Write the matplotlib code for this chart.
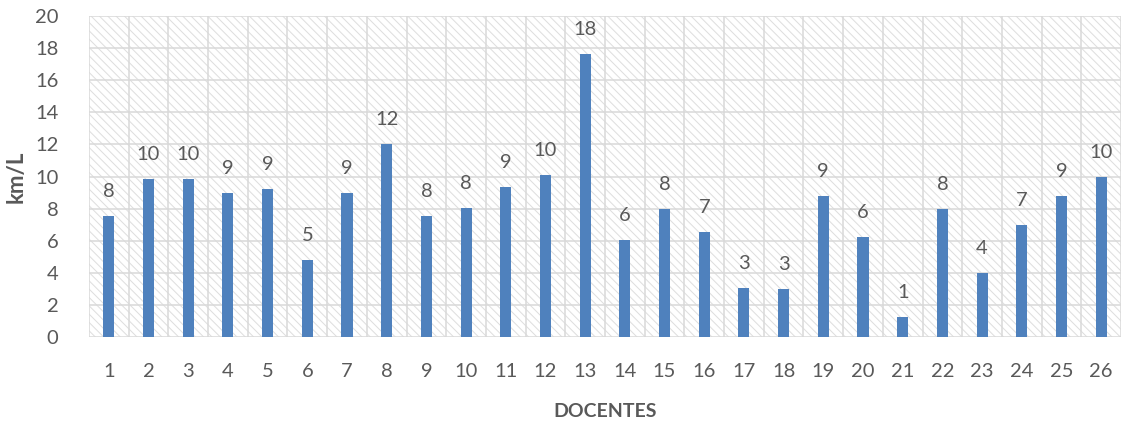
import matplotlib
matplotlib.use("Agg")
import matplotlib.pyplot as plt
from matplotlib.patches import Rectangle
import numpy as np

docentes = [str(i) for i in range(1, 27)]
km_por_litro = [7.55, 9.85, 9.85, 9.0, 9.2, 4.8, 9.0, 12.0, 7.55, 8.05,
                9.35, 10.1, 17.65, 6.05, 8.0, 6.55, 3.05, 3.0, 8.8, 6.25,
                1.25, 8.0, 4.0, 7.0, 8.8, 10.0]
y_ticks = list(range(0, 21, 2))

text_color = "#595959"
grid_color = "#D9D9D9"
bar_color = "#4F81BD"

plt.rcParams["font.family"] = ["Lato", "DejaVu Sans"]
plt.rcParams["hatch.linewidth"] = 0.7

fig = plt.figure(figsize=(11.21, 4.21), dpi=100)
ax = fig.add_axes([89 / 1121, 1 - 337 / 421, 1 - 89 / 1121, (337 - 16) / 421])

# hatched plot-area fill
ax.patch.set_visible(False)
bg = Rectangle((0, 0), 1, 1, transform=ax.transAxes, facecolor="white",
               edgecolor="#DDDDDD", linewidth=0, hatch="\\\\\\\\", zorder=0)
ax.add_patch(bg)

x = np.arange(1, len(docentes) + 1)
ax.bar(x, km_por_litro, width=0.28, color=bar_color, zorder=3)

for xi, v in zip(x, km_por_litro):
    ax.annotate(f"{v:.0f}", (xi, v), xytext=(0, 19), textcoords="offset pixels",
                ha="center", va="baseline", fontsize=14.5, color=text_color, zorder=4)

ax.set_xlim(0.5, len(docentes) + 0.5)
ax.set_ylim(0, 20)
ax.set_xticks(x)
ax.set_xticklabels(docentes)
ax.set_yticks(y_ticks)

# gridlines: horizontal at value ticks, vertical at category boundaries
for yv in y_ticks:
    ax.axhline(yv, color=grid_color, linewidth=1.1, zorder=1)
for xb in np.arange(0.5, len(docentes) + 1, 1.0):
    ax.axvline(xb, color=grid_color, linewidth=1.1, zorder=1)

for s in ax.spines.values():
    s.set_visible(False)
ax.tick_params(axis="both", length=0, labelsize=14.5, colors=text_color)
ax.tick_params(axis="x", pad=19)
ax.tick_params(axis="y", pad=22)

ax.set_xlabel("DOCENTES", fontsize=14, fontweight="bold", color=text_color, labelpad=16)
ax.set_ylabel("km/L", fontsize=16, fontweight="bold", color=text_color, labelpad=6)

fig.savefig("out.png", dpi=100)
